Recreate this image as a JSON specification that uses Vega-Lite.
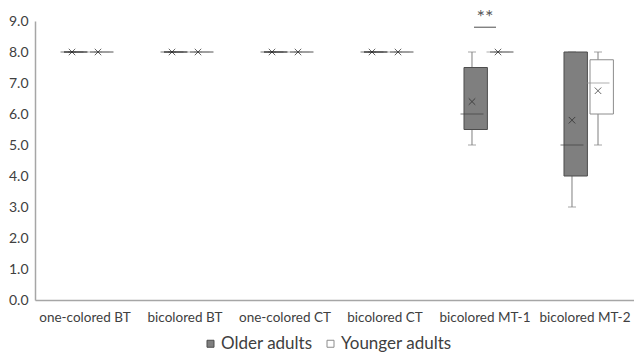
{
  "$schema": "https://vega.github.io/schema/vega-lite/v6.json",
  "width": 600,
  "height": 279,
  "autosize": "none",
  "padding": {"left": 35, "top": 21, "right": 0, "bottom": 58},
  "config": {"view": {"stroke": null}, "font": "Lato"},
  "resolve": {"axis": {"y": "independent"}},
  "datasets": {
    "boxes": [
      {"category": "one-colored BT", "group": "Older adults", "min": 8, "q1": 8, "median": 8, "q3": 8, "max": 8, "mean": 8},
      {"category": "one-colored BT", "group": "Younger adults", "min": 8, "q1": 8, "median": 8, "q3": 8, "max": 8, "mean": 8},
      {"category": "bicolored BT", "group": "Older adults", "min": 8, "q1": 8, "median": 8, "q3": 8, "max": 8, "mean": 8},
      {"category": "bicolored BT", "group": "Younger adults", "min": 8, "q1": 8, "median": 8, "q3": 8, "max": 8, "mean": 8},
      {"category": "one-colored CT", "group": "Older adults", "min": 8, "q1": 8, "median": 8, "q3": 8, "max": 8, "mean": 8},
      {"category": "one-colored CT", "group": "Younger adults", "min": 8, "q1": 8, "median": 8, "q3": 8, "max": 8, "mean": 8},
      {"category": "bicolored CT", "group": "Older adults", "min": 8, "q1": 8, "median": 8, "q3": 8, "max": 8, "mean": 8},
      {"category": "bicolored CT", "group": "Younger adults", "min": 8, "q1": 8, "median": 8, "q3": 8, "max": 8, "mean": 8},
      {"category": "bicolored MT-1", "group": "Older adults", "min": 5, "q1": 5.5, "median": 6, "q3": 7.5, "max": 8, "mean": 6.4},
      {"category": "bicolored MT-1", "group": "Younger adults", "min": 8, "q1": 8, "median": 8, "q3": 8, "max": 8, "mean": 8},
      {"category": "bicolored MT-2", "group": "Older adults", "min": 3, "q1": 4, "median": 5, "q3": 8, "max": 8, "mean": 5.8},
      {"category": "bicolored MT-2", "group": "Younger adults", "min": 5, "q1": 6, "median": 7, "q3": 7.75, "max": 8, "mean": 6.75}
    ],
    "sig": [
      {"category": "bicolored MT-1", "line": 8.8, "label": "**", "labelY": 9.22}
    ]
  },
  "encoding": {
    "x": {
      "field": "category",
      "type": "nominal",
      "sort": ["one-colored BT", "bicolored BT", "one-colored CT", "bicolored CT", "bicolored MT-1", "bicolored MT-2"],
      "scale": {"paddingInner": 0, "paddingOuter": 0},
      "axis": {"title": null, "labelAngle": 0, "ticks": false, "domainColor": "#a6a6a6", "domainWidth": 1.5, "labelFontSize": 13.5, "labelColor": "#404040", "labelPadding": 10, "labelOverlap": false}
    }
  },
  "layer": [
    {
      "data": {"name": "boxes"},
      "mark": {"type": "rule", "color": "#7f7f7f", "strokeWidth": 1},
      "encoding": {
        "xOffset": {"field": "group", "type": "nominal", "scale": {"paddingInner": 0, "paddingOuter": 0.923}},
        "y": {"field": "min", "type": "quantitative", "scale": {"domain": [0, 9], "nice": false}, "axis": {"title": null, "values": [0, 1, 2, 3, 4, 5, 6, 7, 8, 9], "format": ".1f", "ticks": false, "grid": false, "domainColor": "#a6a6a6", "domainWidth": 1.5, "labelFontSize": 14, "labelColor": "#404040", "labelPadding": 7, "labelOverlap": false}},
        "y2": {"field": "max"}
      }
    },
    {
      "data": {"name": "boxes"},
      "mark": {"type": "tick", "orient": "horizontal", "size": 8, "thickness": 1, "color": "#7f7f7f"},
      "encoding": {
        "xOffset": {"field": "group", "type": "nominal", "scale": {"paddingInner": 0, "paddingOuter": 0.923}},
        "y": {"field": "min", "type": "quantitative", "axis": null}
      }
    },
    {
      "data": {"name": "boxes"},
      "mark": {"type": "tick", "orient": "horizontal", "size": 8, "thickness": 1, "color": "#7f7f7f"},
      "encoding": {
        "xOffset": {"field": "group", "type": "nominal", "scale": {"paddingInner": 0, "paddingOuter": 0.923}},
        "y": {"field": "max", "type": "quantitative", "axis": null}
      }
    },
    {
      "data": {"name": "boxes"},
      "mark": {"type": "bar", "width": {"band": 0.9}, "strokeWidth": 1},
      "encoding": {
        "xOffset": {"field": "group", "type": "nominal", "scale": {"paddingInner": 0, "paddingOuter": 0.923}},
        "y": {"field": "q1", "type": "quantitative", "axis": null},
        "y2": {"field": "q3"},
        "fill": {
          "field": "group",
          "type": "nominal",
          "scale": {"domain": ["Older adults", "Younger adults"], "range": ["#7f7f7f", "#ffffff"]},
          "legend": {"title": null, "orient": "none", "legendX": 167, "legendY": 314, "direction": "horizontal", "symbolType": "square", "symbolSize": 49, "symbolStrokeColor": "#7f7f7f", "symbolStrokeWidth": 1, "labelFontSize": 17, "labelColor": "#404040", "labelOffset": 2, "columnPadding": 9}
        },
        "stroke": {
          "field": "group",
          "type": "nominal",
          "scale": {"domain": ["Older adults", "Younger adults"], "range": ["#4d4d4d", "#8c8c8c"]},
          "legend": null
        }
      }
    },
    {
      "data": {"name": "boxes"},
      "mark": {"type": "tick", "orient": "horizontal", "size": 23, "thickness": 1},
      "encoding": {
        "xOffset": {"field": "group", "type": "nominal", "scale": {"paddingInner": 0, "paddingOuter": 0.923}},
        "y": {"field": "median", "type": "quantitative", "axis": null},
        "color": {
          "field": "group",
          "type": "nominal",
          "scale": {"domain": ["Older adults", "Younger adults"], "range": ["#404040", "#8c8c8c"]},
          "legend": null
        }
      }
    },
    {
      "data": {"name": "boxes"},
      "mark": {"type": "point", "shape": "M-1,-1L1,1M-1,1L1,-1", "size": 42, "filled": false, "stroke": "#262626", "strokeWidth": 1},
      "encoding": {
        "xOffset": {"field": "group", "type": "nominal", "scale": {"paddingInner": 0, "paddingOuter": 0.923}},
        "y": {"field": "mean", "type": "quantitative", "axis": null}
      }
    },
    {
      "data": {"name": "sig"},
      "mark": {"type": "tick", "orient": "horizontal", "size": 22, "thickness": 1, "color": "#000000"},
      "encoding": {
        "y": {"field": "line", "type": "quantitative", "axis": null}
      }
    },
    {
      "data": {"name": "sig"},
      "mark": {"type": "text", "fontSize": 20, "color": "#595959", "baseline": "middle", "dy": 4},
      "encoding": {
        "y": {"field": "labelY", "type": "quantitative", "axis": null},
        "text": {"field": "label"}
      }
    }
  ]
}
